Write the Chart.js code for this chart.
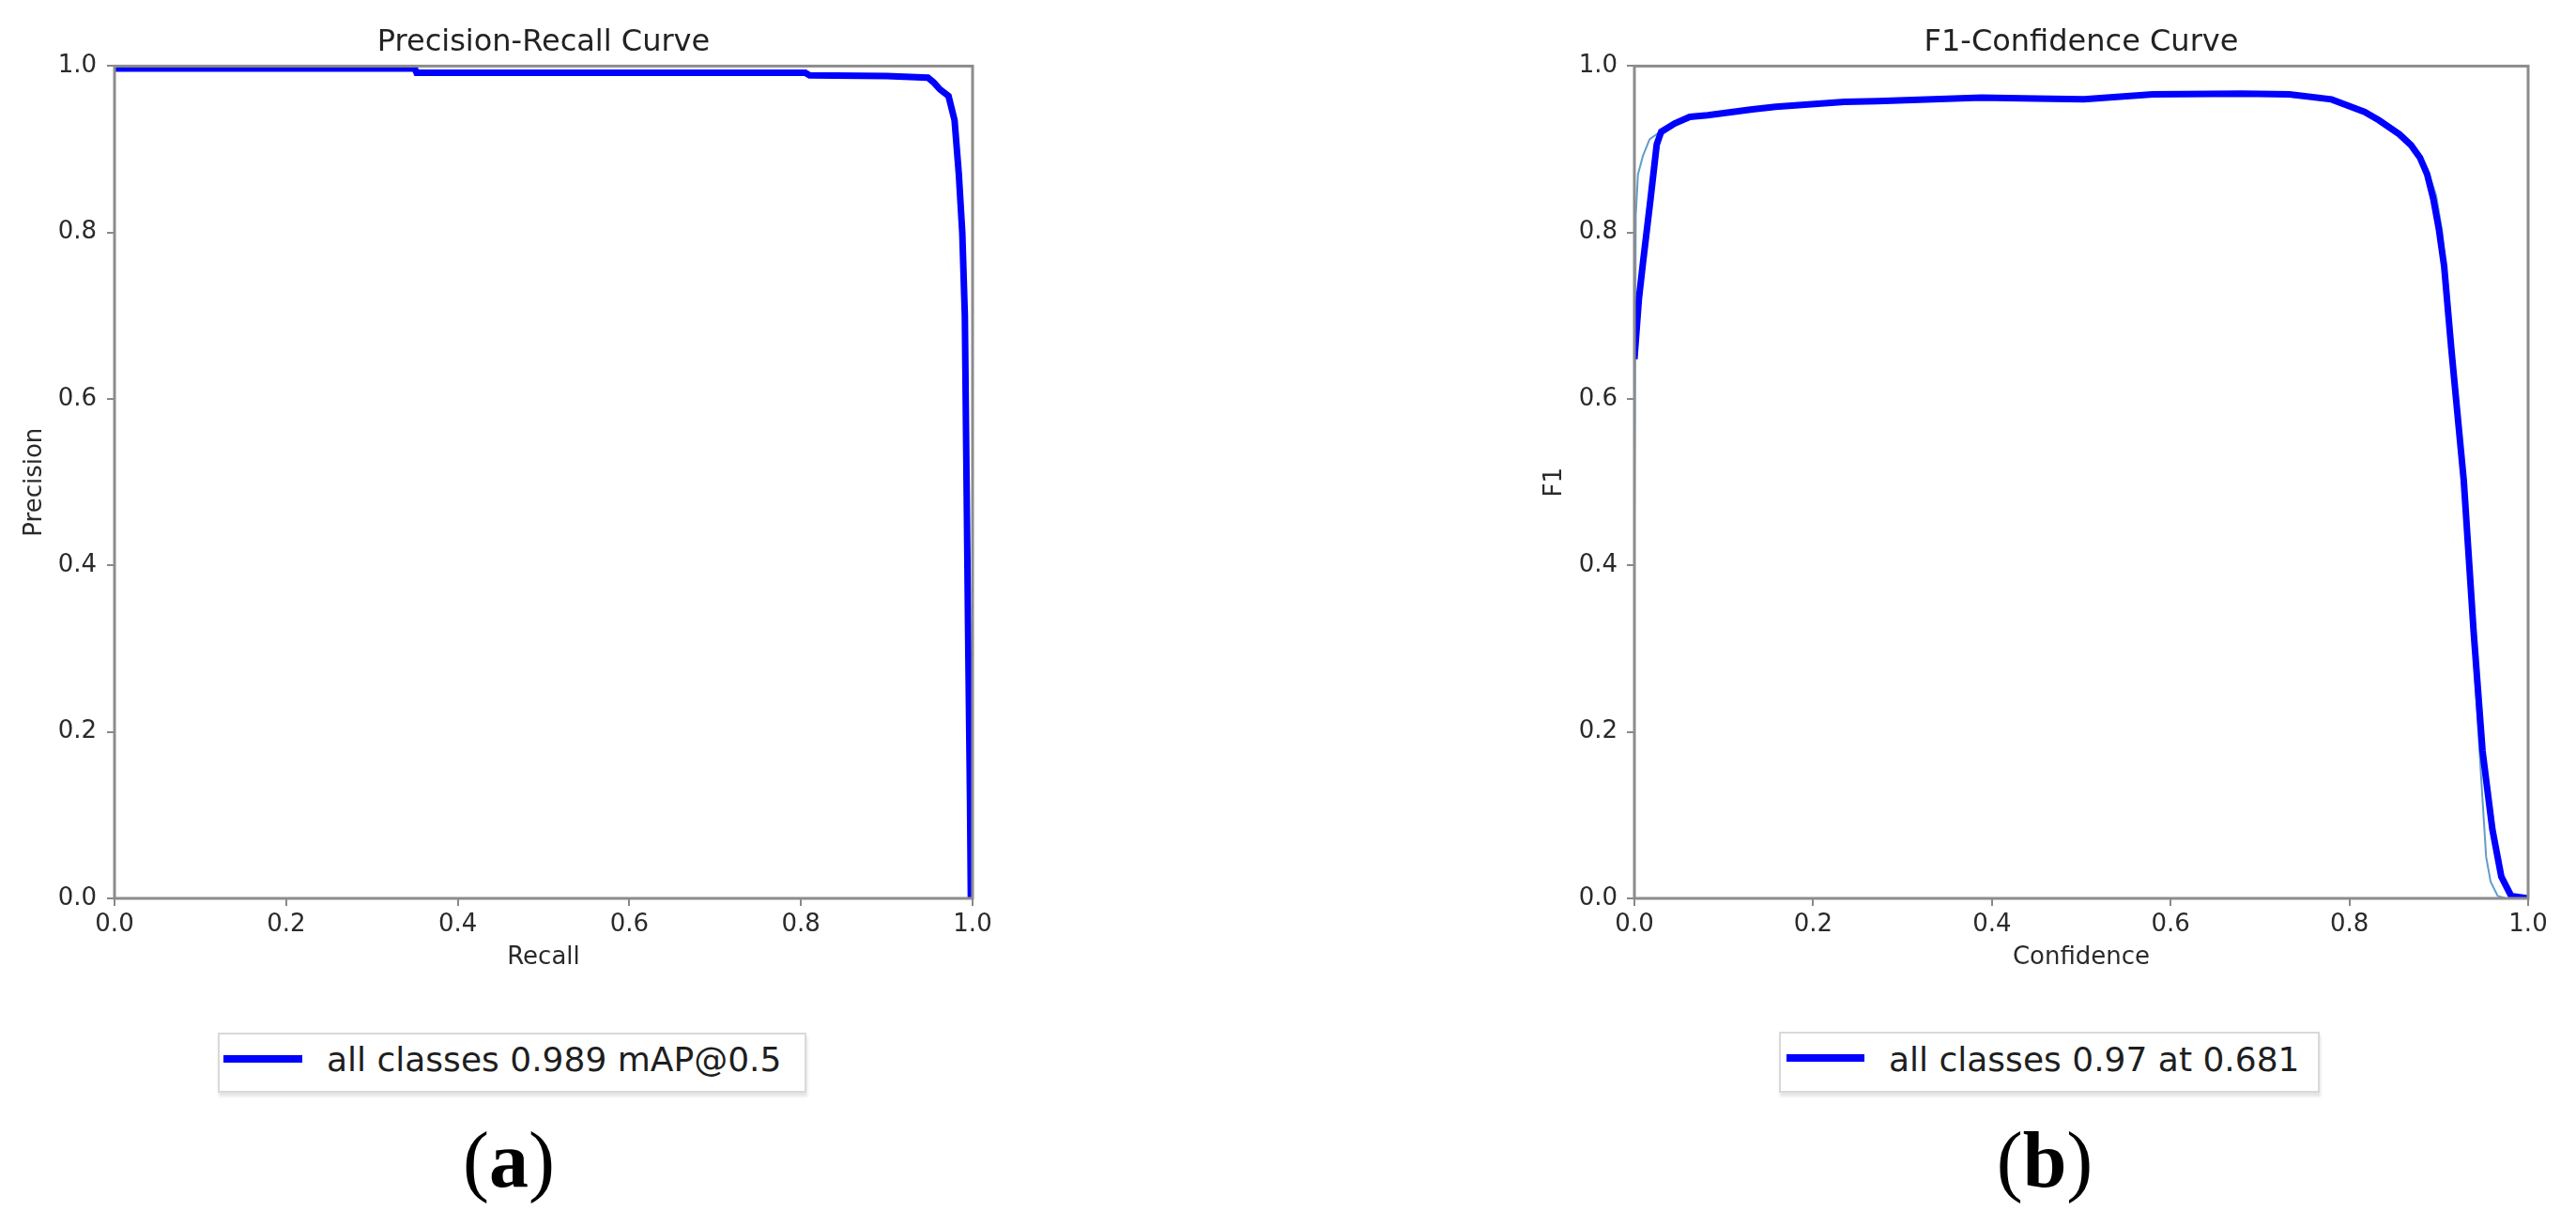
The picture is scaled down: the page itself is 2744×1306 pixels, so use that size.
<!DOCTYPE html>
<html>
<head>
<meta charset="utf-8">
<script src="https://cdn.jsdelivr.net/npm/chart.js@4/dist/chart.umd.min.js"></script>
<style>
  html, body { margin: 0; padding: 0; background: #ffffff; }
  body { width: 2744px; height: 1306px; position: relative; overflow: hidden; }
  .cv { position: absolute; }
  .legend { position: absolute; border: 2px solid #d9d9d9; box-shadow: 1px 4px 3px #e4e4e4; background: #fff; box-sizing: border-box; }
  .lline { position: absolute; height: 8px; background: #0000ff; }
  .ltext { position: absolute; font-family: "DejaVu Sans"; font-size: 36px; line-height: 36px; color: #1e1e1e; white-space: nowrap; }
  .sub { position: absolute; width: 200px; text-align: center; font-family: "Liberation Serif"; font-size: 84px; line-height: 84px; color: #000; }
  .sub b { font-weight: bold; }
</style>
</head>
<body>
<div class="cv" style="left:0px;top:0px;width:1100px;height:1060px;"><canvas id="c1"></canvas></div>
<div class="cv" style="left:1600px;top:0px;width:1144px;height:1060px;"><canvas id="c2"></canvas></div>

<div class="legend" style="left:232px;top:1100px;width:627px;height:64px;"></div>
<div class="lline" style="left:238px;top:1124px;width:84px;"></div>
<div class="ltext" id="legA" style="left:348px;top:1111px;"></div>

<div class="legend" style="left:1895px;top:1099px;width:576px;height:65px;"></div>
<div class="lline" style="left:1903px;top:1123px;width:83px;"></div>
<div class="ltext" id="legB" style="left:2012px;top:1111px;"></div>

<div class="sub" style="left:442px;top:1194px;">(<b>a</b>)</div>
<div class="sub" style="left:2078px;top:1194px;">(<b>b</b>)</div>

<script>
// ---------------- data ----------------
const xTickLabels = ['0.0', '0.2', '0.4', '0.6', '0.8', '1.0'];
const yTickLabels = ['0.0', '0.2', '0.4', '0.6', '0.8', '1.0'];

// (a) Precision-Recall curve
const prRecall    = [0, 0.35, 0.352, 0.805, 0.81, 0.90, 0.948, 0.955, 0.962, 0.972, 0.979, 0.984, 0.988, 0.991, 0.993, 0.995, 0.997, 0.998];
const prPrecision = [0.997, 0.997, 0.992, 0.992, 0.989, 0.988, 0.986, 0.980, 0.972, 0.964, 0.935, 0.87, 0.80, 0.70, 0.50, 0.30, 0.12, 0];
const prLegend = 'all classes 0.989 mAP@0.5';

// (b) F1-Confidence curve, all classes (thick)
const f1Conf = [0, 0.005, 0.0095, 0.018, 0.025, 0.03, 0.045, 0.062, 0.082, 0.132, 0.158, 0.235, 0.272, 0.388, 0.45, 0.503, 0.58, 0.68, 0.733, 0.78, 0.817, 0.833, 0.856, 0.869, 0.879, 0.887, 0.894, 0.900, 0.906, 0.914, 0.928, 0.939, 0.949, 0.960, 0.970, 0.981, 1.0];
const f1All  = [0.648, 0.72, 0.763, 0.84, 0.906, 0.921, 0.931, 0.939, 0.941, 0.948, 0.951, 0.957, 0.958, 0.962, 0.961, 0.960, 0.966, 0.967, 0.966, 0.960, 0.945, 0.935, 0.918, 0.905, 0.89, 0.87, 0.84, 0.805, 0.76, 0.661, 0.502, 0.321, 0.177, 0.083, 0.026, 0.003, 0];
// (b) single class (thin)
const f1ClassConf = [0, 0.0015, 0.004, 0.0095, 0.017, 0.03, 0.062, 0.132, 0.235, 0.388, 0.503, 0.58, 0.68, 0.78, 0.833, 0.869, 0.887, 0.897, 0.904, 0.912, 0.926, 0.937, 0.946, 0.953, 0.958, 0.966, 0.975, 1.0];
const f1Class     = [0.448, 0.82, 0.87, 0.892, 0.912, 0.922, 0.939, 0.948, 0.957, 0.962, 0.960, 0.966, 0.967, 0.960, 0.935, 0.905, 0.877, 0.845, 0.80, 0.70, 0.52, 0.33, 0.17, 0.05, 0.02, 0.003, 0, 0];
const f1Legend = 'all classes 0.97 at 0.681';

document.getElementById('legA').textContent = prLegend;
document.getElementById('legB').textContent = f1Legend;

// ---------------- helpers ----------------
const toXY = (xs, ys) => xs.map((x, i) => ({ x: x, y: ys[i] }));

const frame = {
  id: 'frame',
  afterDatasetsDraw(chart) {
    const a = chart.chartArea, ctx = chart.ctx;
    ctx.save();
    ctx.strokeStyle = '#8c8c8c';
    ctx.lineWidth = 3;
    ctx.strokeRect(a.left, a.top, a.right - a.left, a.bottom - a.top);
    ctx.restore();
  }
};

function makeOptions(cfg) {
  const tickFont = { family: 'DejaVu Sans', size: 26 };
  return {
    responsive: true,
    maintainAspectRatio: false,
    animation: false,
    devicePixelRatio: 1,
    layout: { padding: { left: 0, right: cfg.padRight, top: 0, bottom: 0 } },
    plugins: {
      legend: { display: false },
      tooltip: { enabled: false },
      title: {
        display: true,
        text: cfg.title,
        fullSize: false,
        color: '#222',
        font: { family: 'DejaVu Sans', size: 32, weight: 'normal' },
        padding: { top: 26, bottom: 6 }
      }
    },
    elements: { point: { radius: 0 }, line: { tension: 0 } },
    scales: {
      x: {
        type: 'linear', min: 0, max: 1,
        border: { display: false },
        grid: { drawOnChartArea: false, drawTicks: true, tickLength: 8, color: '#888', lineWidth: 2 },
        ticks: { stepSize: 0.2, font: tickFont, color: '#2a2a2a', padding: 5, maxRotation: 0,
                 callback: (v, i) => xTickLabels[i] },
        title: { display: true, text: cfg.xTitle, color: '#2a2a2a', font: tickFont, padding: { top: 0, bottom: 24 } },
        afterFit: (s) => { s.height = 103; }
      },
      y: {
        type: 'linear', min: 0, max: 1,
        border: { display: false },
        grid: { drawOnChartArea: false, drawTicks: true, tickLength: 8, color: '#888', lineWidth: 2 },
        ticks: { stepSize: 0.2, font: tickFont, color: '#2a2a2a', padding: cfg.yTickPad,
                 callback: (v, i) => yTickLabels[i] },
        title: { display: true, text: cfg.yTitle, color: '#2a2a2a', font: tickFont, padding: { top: cfg.yTitlePad, bottom: 0 } },
        afterFit: (s) => { s.width = cfg.yWidth; }
      }
    }
  };
}

new Chart(document.getElementById('c1'), {
  type: 'line',
  data: {
    datasets: [{
      label: prLegend,
      data: toXY(prRecall, prPrecision),
      borderColor: '#0000ff',
      borderWidth: 7,
      fill: false
    }]
  },
  options: makeOptions({ title: 'Precision-Recall Curve', xTitle: 'Recall', yTitle: 'Precision',
                         padRight: 64, yWidth: 122, yTickPad: 11, yTitlePad: 22 }),
  plugins: [frame]
});

new Chart(document.getElementById('c2'), {
  type: 'line',
  data: {
    datasets: [{
      label: f1Legend,
      data: toXY(f1Conf, f1All),
      borderColor: '#0000ff',
      borderWidth: 7,
      fill: false,
      order: 0
    }, {
      label: 'class',
      data: toXY(f1ClassConf, f1Class),
      borderColor: 'rgba(70,140,190,0.85)',
      borderWidth: 2,
      fill: false,
      order: 1
    }]
  },
  options: makeOptions({ title: 'F1-Confidence Curve', xTitle: 'Confidence', yTitle: 'F1',
                         padRight: 51, yWidth: 141, yTickPad: 10, yTitlePad: 41 }),
  plugins: [frame]
});
</script>
</body>
</html>
